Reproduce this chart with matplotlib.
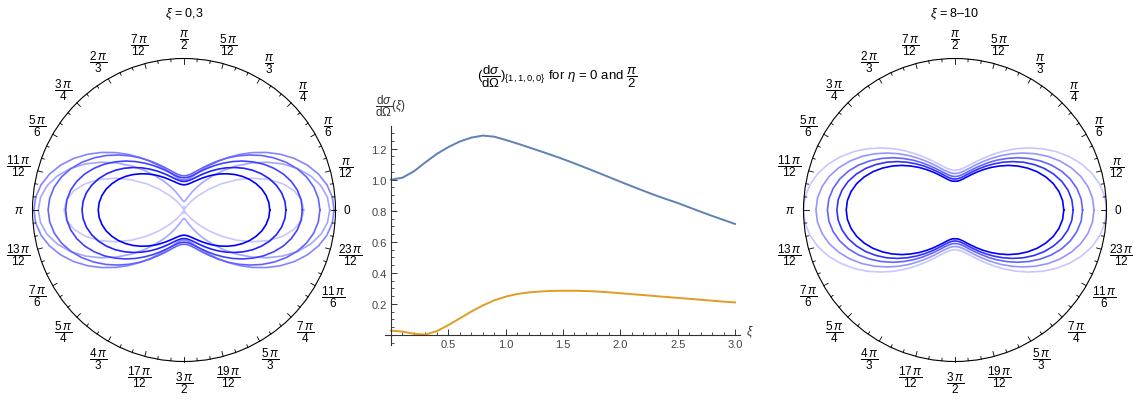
import numpy as np
import matplotlib
matplotlib.use("Agg")
import matplotlib.pyplot as plt

plt.rcParams['font.family'] = ['Liberation Sans', 'DejaVu Sans']
plt.rcParams['mathtext.fontset'] = 'custom'
plt.rcParams['mathtext.rm'] = 'Liberation Sans'
plt.rcParams['mathtext.it'] = 'Liberation Sans:italic'
plt.rcParams['mathtext.sf'] = 'Liberation Sans'

# dsigma/dOmega against xi, for eta = 0 and eta = pi/2
xi = [0.0, 0.1, 0.2, 0.3, 0.4, 0.5, 0.6, 0.7, 0.8, 0.9, 1.0,
      1.1, 1.2, 1.3, 1.4, 1.5, 1.6, 1.7, 1.8, 1.9, 2.0,
      2.1, 2.2, 2.3, 2.4, 2.5, 2.6, 2.7, 2.8, 2.9, 3.0]
eta_0 = [1.000, 1.013, 1.054, 1.112, 1.166, 1.210, 1.246, 1.271, 1.284, 1.277, 1.256,
         1.233, 1.209, 1.184, 1.159, 1.133, 1.105, 1.076, 1.047, 1.017, 0.987,
         0.958, 0.929, 0.901, 0.875, 0.850, 0.822, 0.794, 0.767, 0.741, 0.715]
eta_half_pi = [0.028, 0.022, 0.008, 0.003, 0.025, 0.064, 0.107, 0.151, 0.190, 0.223, 0.247,
               0.264, 0.274, 0.280, 0.284, 0.285, 0.285, 0.283, 0.280, 0.275, 0.269,
               0.263, 0.257, 0.251, 0.245, 0.239, 0.233, 0.227, 0.221, 0.215, 0.210]

# polar tables: r at eta = 0, 5, ..., 90 degrees (the rest follows by symmetry)
eta_deg = list(range(0, 95, 5))

r_xi_00 = [1.000, 0.982, 0.931, 0.850, 0.746, 0.627, 0.502, 0.380, 0.268, 0.173,
           0.099, 0.047, 0.016, 0.002, 0.001, 0.008, 0.017, 0.025, 0.028]
r_xi_05 = [1.215, 1.201, 1.160, 1.094, 1.009, 0.908, 0.797, 0.683, 0.572, 0.467,
           0.373, 0.292, 0.225, 0.172, 0.131, 0.103, 0.084, 0.073, 0.070]
r_xi_10 = [1.251, 1.241, 1.210, 1.160, 1.094, 1.016, 0.929, 0.837, 0.745, 0.655,
           0.571, 0.495, 0.429, 0.373, 0.328, 0.293, 0.269, 0.255, 0.250]
r_xi_15 = [1.133, 1.124, 1.099, 1.059, 1.005, 0.940, 0.868, 0.792, 0.714, 0.639,
           0.567, 0.502, 0.444, 0.395, 0.355, 0.324, 0.302, 0.289, 0.285]
r_xi_20 = [0.987, 0.980, 0.959, 0.925, 0.880, 0.825, 0.765, 0.700, 0.635, 0.571,
           0.510, 0.455, 0.405, 0.363, 0.329, 0.302, 0.283, 0.272, 0.268]
r_xi_25 = [0.850, 0.844, 0.826, 0.797, 0.759, 0.713, 0.662, 0.607, 0.551, 0.497,
           0.445, 0.398, 0.356, 0.320, 0.290, 0.267, 0.251, 0.241, 0.238]
r_xi_30 = [0.715, 0.710, 0.695, 0.672, 0.640, 0.603, 0.561, 0.516, 0.470, 0.425,
           0.382, 0.343, 0.308, 0.278, 0.254, 0.235, 0.221, 0.213, 0.210]

r_xi_80 = [1.000, 0.993, 0.971, 0.936, 0.889, 0.833, 0.771, 0.705, 0.637, 0.572,
           0.509, 0.452, 0.402, 0.359, 0.324, 0.297, 0.277, 0.266, 0.262]
r_xi_85 = [0.918, 0.911, 0.891, 0.859, 0.816, 0.765, 0.708, 0.647, 0.585, 0.525,
           0.468, 0.415, 0.369, 0.330, 0.297, 0.272, 0.255, 0.244, 0.241]
r_xi_90 = [0.842, 0.836, 0.817, 0.788, 0.749, 0.702, 0.649, 0.593, 0.537, 0.481,
           0.429, 0.381, 0.338, 0.302, 0.273, 0.250, 0.234, 0.224, 0.221]
r_xi_95 = [0.780, 0.774, 0.757, 0.730, 0.693, 0.650, 0.601, 0.550, 0.497, 0.446,
           0.397, 0.353, 0.314, 0.280, 0.253, 0.231, 0.216, 0.207, 0.204]
r_xi_100 = [0.718, 0.713, 0.697, 0.672, 0.638, 0.598, 0.553, 0.506, 0.458, 0.410,
            0.366, 0.325, 0.289, 0.258, 0.233, 0.213, 0.199, 0.191, 0.190]

low_curves = [r_xi_00, r_xi_05, r_xi_10, r_xi_15, r_xi_20, r_xi_25, r_xi_30]
high_curves = [r_xi_80, r_xi_85, r_xi_90, r_xi_95, r_xi_100]

angle_labels = ['0', r'$\dfrac{\pi}{12}$', r'$\dfrac{\pi}{6}$', r'$\dfrac{\pi}{4}$',
                r'$\dfrac{\pi}{3}$', r'$\dfrac{5\,\pi}{12}$', r'$\dfrac{\pi}{2}$',
                r'$\dfrac{7\,\pi}{12}$', r'$\dfrac{2\,\pi}{3}$', r'$\dfrac{3\,\pi}{4}$',
                r'$\dfrac{5\,\pi}{6}$', r'$\dfrac{11\,\pi}{12}$', r'$\pi$',
                r'$\dfrac{13\,\pi}{12}$', r'$\dfrac{7\,\pi}{6}$', r'$\dfrac{5\,\pi}{4}$',
                r'$\dfrac{4\,\pi}{3}$', r'$\dfrac{17\,\pi}{12}$', r'$\dfrac{3\,\pi}{2}$',
                r'$\dfrac{19\,\pi}{12}$', r'$\dfrac{5\,\pi}{3}$', r'$\dfrac{7\,\pi}{4}$',
                r'$\dfrac{11\,\pi}{6}$', r'$\dfrac{23\,\pi}{12}$']


def full_turn(q):
    # mirror a 0..90 degree table round the whole circle
    q = list(q)
    back = q[-2::-1]
    return q + back + q[1:] + back


def shades(n):
    a = np.linspace(0.22, 1.0, n)
    return [(1 - v, 1 - v, 1.0) for v in a]


fig = plt.figure(figsize=(11.33, 4.02), dpi=100)
W, H = 1133, 402
R = 151.5
theta = np.deg2rad(np.arange(0, 365, 5))
tick_labels = []


def polar_panel(cx, curves, rmax, title):
    ax = fig.add_axes([(cx - R) / W, (H - 211 - R) / H, 2 * R / W, 2 * R / H],
                      projection='polar')
    for q, c in zip(curves, shades(len(curves))):
        ax.plot(theta, full_turn(q), color=c, lw=1.2)
    ax.set_ylim(0, rmax)
    ax.set_yticks([])
    ax.set_xticks([])
    ax.grid(False)
    ax.spines['polar'].set_linewidth(0.8)
    # inward ticks on the rim, longer every 15 degrees
    for deg in range(0, 360, 5):
        th = np.deg2rad(deg)
        L = 5.0 if deg % 15 == 0 else 2.8
        ax.plot([th, th], [rmax, rmax * (1 - L / R)], color='black', lw=0.6,
                clip_on=False)
    for k, lbl in enumerate(angle_labels):
        th = np.deg2rad(15 * k)
        t = ax.annotate(lbl, xy=(th, rmax), xytext=(0, 0), textcoords='offset pixels',
                        ha='center', va='center', fontsize=8.5, annotation_clip=False)
        tick_labels.append((t, th))
    fig.text(cx / W, 1 - 14 / H, title, ha='center', va='center', fontsize=9)
    return ax


polar_panel(184, low_curves, 1.263, r'$\xi$ = 0,3')
polar_panel(955, high_curves, 1.0, r'$\xi$ = 8–10')

# middle panel, axes crossing at the origin
px_x, px_y = 114.67, 155.3
x0, x1, y0, y1 = -0.055, 3.04, -0.065, 1.345
left = 391 + x0 * px_x
bottom = H - 336 + y0 * px_y
ax = fig.add_axes([left / W, bottom / H, (x1 - x0) * px_x / W, (y1 - y0) * px_y / H])
ax.plot(xi, eta_0, color='#5E81B5', lw=1.4)
ax.plot(xi, eta_half_pi, color='#E19C24', lw=1.4)
ax.set_xlim(x0, x1)
ax.set_ylim(y0, y1)
for s in ('top', 'right'):
    ax.spines[s].set_visible(False)
ax.spines['left'].set_position(('data', 0))
ax.spines['bottom'].set_position(('data', 0))
for s in ('left', 'bottom'):
    ax.spines[s].set_color('#333333')
    ax.spines[s].set_linewidth(0.8)
ax.set_xticks([0.5, 1.0, 1.5, 2.0, 2.5, 3.0])
ax.set_xticklabels(['0.5', '1.0', '1.5', '2.0', '2.5', '3.0'])
ax.set_xticks(np.arange(0.0, 3.05, 0.1), minor=True)
ax.set_yticks([0.2, 0.4, 0.6, 0.8, 1.0, 1.2])
ax.set_yticklabels(['0.2', '0.4', '0.6', '0.8', '1.0', '1.2'])
ax.set_yticks(np.arange(-0.05, 1.34, 0.05), minor=True)
ax.tick_params(which='major', direction='in', length=4, width=0.7, color='#333333',
               labelsize=8, labelcolor='#444444', pad=3)
ax.tick_params(which='minor', direction='in', length=2, width=0.6, color='#333333')
ax.annotate(r'$\dfrac{\mathrm{d}\sigma}{\mathrm{d}\Omega}(\xi)$', xy=(0, y1),
            xytext=(0, 8), textcoords='offset pixels', ha='center', va='bottom',
            fontsize=8.5, color='#333333', annotation_clip=False)
ax.annotate(r'$\xi$', xy=(x1, 0), xytext=(6, 4), textcoords='offset pixels',
            ha='left', va='center', fontsize=8.5, color='#333333', annotation_clip=False)
fig.text(557 / W, 1 - 77 / H,
         r'$(\dfrac{\mathrm{d}\sigma}{\mathrm{d}\Omega})_{\{1,1,0,0\}}$ for $\eta$ = 0 and $\dfrac{\pi}{2}$',
         ha='center', va='center', fontsize=9.5)

# push the angle labels just clear of the rim
fig.canvas.draw()
renderer = fig.canvas.get_renderer()
for t, th in tick_labels:
    bb = t.get_window_extent(renderer)
    d = 8 + np.hypot(bb.width / 2 * np.cos(th), bb.height / 2 * np.sin(th))
    t.xyann = (d * np.cos(th), d * np.sin(th))

fig.savefig('out.png', dpi=100)
